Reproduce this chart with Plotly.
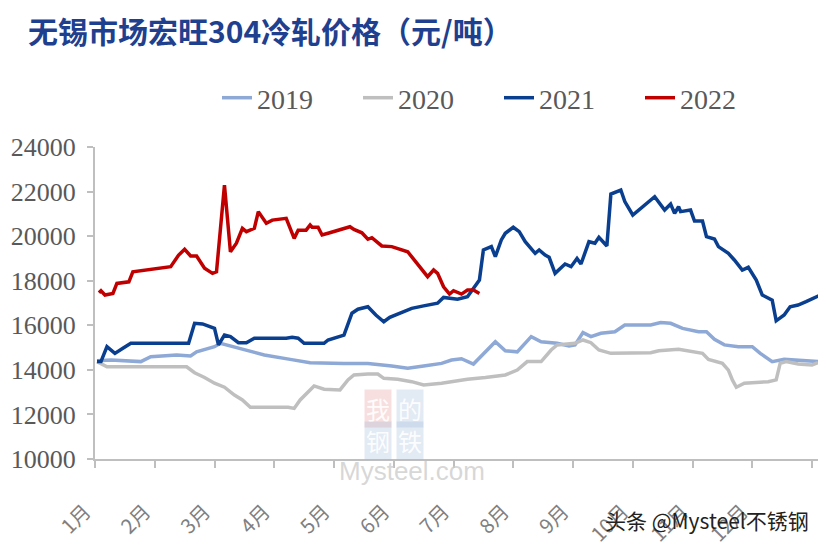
import plotly.graph_objects as go

# ---------------- data (day index of year, value in 元/吨) ----------------
month_labels = ["1月", "2月", "3月", "4月", "5月", "6月", "7月", "8月", "9月",
                "10月", "11月", "12月", ""]

days_2019 = [1, 8, 23, 28, 41, 48, 51, 55, 60, 63, 68, 73, 78, 85, 98, 108, 125, 137,
             149, 157, 165, 174, 179, 184, 190, 196, 201, 206, 212, 219, 224, 232, 238,
             241, 245, 249, 254, 261, 266, 279, 284, 289, 295, 303, 307, 311, 316, 323,
             330, 334, 340, 346, 352, 363]
vals_2019 = [14410, 14440, 14370, 14590, 14670, 14620, 14810, 14920, 15040, 15190,
             15070, 14920, 14810, 14670, 14470, 14320, 14290, 14290, 14170, 14070,
             14170, 14290, 14440, 14500, 14260, 14810, 15260, 14860, 14810, 15490,
             15260, 15190, 15070, 15120, 15670, 15490, 15640, 15710, 16010, 16010,
             16120, 16090, 15860, 15710, 15710, 15370, 15120, 15040, 15040, 14740,
             14370, 14470, 14440, 14370]

days_2020 = [1, 6, 46, 50, 55, 60, 65, 70, 74, 78, 97, 100, 103, 106, 110, 115, 123, 127,
             130, 137, 142, 145, 152, 159, 165, 174, 179, 187, 196, 206, 212, 217, 224,
             229, 232, 241, 245, 249, 253, 259, 279, 283, 293, 300, 305, 308, 315, 318,
             320, 322, 326, 338, 342, 344, 347, 353, 360, 363]
vals_2020 = [14370, 14140, 14140, 13870, 13660, 13400, 13220, 12870, 12650, 12320,
             12320, 12270, 12650, 12920, 13280, 13130, 13100, 13550, 13770, 13810,
             13810, 13620, 13580, 13470, 13320, 13400, 13470, 13580, 13660, 13770,
             13990, 14370, 14370, 14890, 15120, 15190, 15340, 15220, 14890, 14740,
             14770, 14860, 14920, 14810, 14740, 14470, 14290, 13990, 13550, 13220,
             13400, 13470, 13550, 14290, 14370, 14260, 14220, 14320]

days_2021 = [1, 3, 6, 10, 14, 18, 47, 50, 54, 57, 60, 62, 65, 68, 72, 76, 80, 96, 99,
             102, 105, 115, 117, 125, 129, 132, 137, 141, 145, 148, 152, 159, 165, 172,
             175, 182, 187, 190, 193, 195, 199, 201, 204, 206, 210, 213, 216, 221, 223,
             226, 228, 231, 236, 239, 242, 244, 248, 251, 253, 257, 259, 264, 266, 270,
             281, 286, 289, 291, 293, 294, 299, 301, 305, 307, 311, 313, 318, 321, 325,
             328, 332, 335, 340, 342, 346, 349, 353, 357, 363, 364]
vals_2021 = [14370, 14370, 15040, 14740, 14970, 15190, 15190, 16090, 16060, 15940,
             15860, 15120, 15560, 15490, 15220, 15220, 15420, 15420, 15460, 15420,
             15190, 15190, 15340, 15560, 16540, 16720, 16830, 16460, 16160, 16360,
             16510, 16760, 16870, 16990, 17250, 17170, 17280, 17660, 18030, 19380,
             19530, 19080, 19830, 20130, 20400, 20200, 19750, 19230, 19380, 19150,
             19050, 18330, 18750, 18630, 19000, 18750, 19750, 19680, 19950, 19560,
             21890, 22070, 21550, 20950, 21770, 21170, 21440, 21020, 21320, 21100,
             21170, 20680, 20680, 19980, 19870, 19530, 19230, 18930, 18480, 18600,
             18030, 17360, 17130, 16200, 16460, 16830, 16910, 17060, 17310, 17260]

days_2022 = [2, 3, 5, 9, 11, 17, 19, 38, 42, 45, 48, 51, 55, 59, 61, 65, 68, 71, 74, 76,
             80, 82, 86, 89, 96, 100, 102, 106, 108, 109, 112, 114, 117, 123, 128, 130,
             134, 137, 139, 144, 149, 157, 159, 165, 167, 170, 172, 175, 178, 180, 184,
             187, 190, 193]
vals_2022 = [17460, 17550, 17360, 17430, 17880, 17950, 18400, 18630, 19150, 19410,
             19110, 19110, 18560, 18330, 18400, 22290, 19300, 19680, 20350, 20200,
             20350, 21100, 20580, 20720, 20800, 19900, 20270, 20270, 20500, 20400,
             20400, 20050, 20130, 20300, 20420, 20300, 20150, 19860, 19930, 19560,
             19530, 19300, 19080, 18400, 18180, 18480, 18330, 17730, 17400, 17550,
             17400, 17580, 17580, 17430]

series = [
    ("2019", days_2019, vals_2019, "#8EA9D6"),
    ("2020", days_2020, vals_2020, "#BFBFBF"),
    ("2021", days_2021, vals_2021, "#0A3E8E"),
    ("2022", days_2022, vals_2022, "#C00000"),
]

fig = go.Figure()
for name, d, v, c in series:
    fig.add_trace(go.Scatter(x=d, y=v, mode="lines", name=name,
                             line=dict(color=c, width=3.5)))

AX = "#BFBFBF"
tick_positions = [30 * i for i in range(len(month_labels))]

W, H = 818, 539  # page body has an 8px margin

fig.update_layout(
    width=W, height=H,
    margin=dict(l=87, r=6, t=139, b=88, autoexpand=False),
    paper_bgcolor="white", plot_bgcolor="white",
    title=dict(text="<b>无锡市场宏旺304冷轧价格（元/吨）</b>",
               x=20 / W, xanchor="left", xref="container",
               y=1 - 24 / H, yanchor="middle", yref="container",
               font=dict(family="Noto Sans CJK SC", size=30, color="#1F3F8F")),
    legend=dict(orientation="h", xref="container", yref="container",
                x=209 / W, xanchor="left", y=1 - 90 / H, yanchor="middle",
                font=dict(family="Liberation Serif", size=28, color="#595959"),
                entrywidth=96, entrywidthmode="pixels",
                bgcolor="rgba(0,0,0,0)", traceorder="normal"),
    xaxis=dict(range=[0, 364], tickmode="array", tickvals=tick_positions,
               ticktext=month_labels, tickangle=-45, ticks="outside", ticklen=7,
               tickwidth=2, tickcolor=AX, showline=True, linecolor=AX, linewidth=2,
               showgrid=False, zeroline=False, ticklabelstandoff=24,
               ticklabelshift=-10,
               tickfont=dict(family="Noto Sans CJK SC", size=20, color="#808080")),
    yaxis=dict(range=[10000, 24000], dtick=2000, tick0=10000, ticks="outside",
               ticklen=6, tickwidth=2, tickcolor=AX, showline=True, linecolor=AX,
               linewidth=2, showgrid=False, zeroline=False, ticklabelstandoff=6,
               tickformat="d",
               tickfont=dict(family="Liberation Serif", size=26, color="#595959")),
)

# faint site watermark in the middle of the chart
wm = [("我", 378, 428, "rgba(226,140,140,0.28)"), ("的", 410, 428, "rgba(150,180,215,0.28)"),
      ("钢", 378, 460, "rgba(150,180,215,0.28)"), ("铁", 410, 460, "rgba(150,180,215,0.28)")]
for ch, px, py, bg in wm:
    fig.add_annotation(text=ch, xref="paper", yref="paper",
                       x=(px - 95) / 725, y=(459 - py) / 312,
                       showarrow=False, bgcolor=bg, borderpad=1,
                       font=dict(family="Noto Sans CJK SC", size=24,
                                 color="rgba(255,255,255,0.9)"))
fig.add_annotation(text="Mysteel.com", xref="paper", yref="paper",
                   x=(412 - 95) / 725, y=(459 - 488) / 312, showarrow=False,
                   font=dict(family="Liberation Sans", size=26, color="rgba(205,205,205,0.8)"))

# bottom-right source mark
fig.add_annotation(text="头条 @Mysteel不锈钢", xref="paper", yref="paper",
                   x=(811 - 95) / 725, xanchor="right", y=(459 - 520) / 312,
                   yanchor="middle", showarrow=False,
                   font=dict(family="Noto Sans CJK SC", size=21, color="#222222"))

fig.write_html("out.html")
